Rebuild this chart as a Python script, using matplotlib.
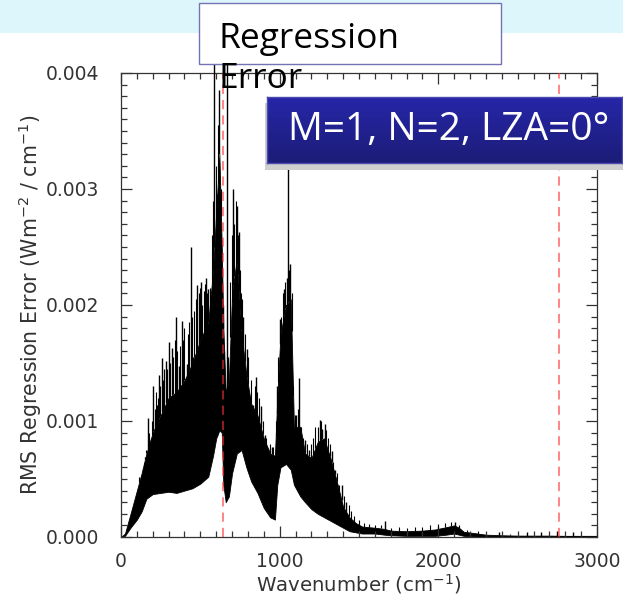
import numpy as np
import matplotlib
matplotlib.use("Agg")
import matplotlib.pyplot as plt
from matplotlib.patches import Rectangle

W, H = 623, 597

# envelope of the dense spectrum (wavenumber cm-1, values in 1e-3 W m-2 / cm-1)
wn_env = [0, 25, 60, 100, 130, 160, 200, 250, 300, 350, 400, 450, 500, 550, 580,
          600, 620, 635, 645, 660, 680, 700, 730, 760, 790, 820, 860, 900, 940,
          970, 985, 1005, 1040, 1070, 1090, 1130, 1160, 1200, 1240, 1280, 1320,
          1360, 1400, 1440, 1480, 1520, 1600, 1660, 1700, 1800, 1900, 1980, 2050,
          2100, 2130, 2160, 2220, 2300, 2400, 2500, 2600, 2700, 2800, 2900, 3000]
low_env = [0.0, 0.01, 0.08, 0.15, 0.22, 0.33, 0.37, 0.38, 0.39, 0.38, 0.40, 0.42,
           0.46, 0.52, 0.70, 0.85, 0.92, 0.90, 0.45, 0.30, 0.35, 0.55, 0.72, 0.75,
           0.60, 0.48, 0.38, 0.25, 0.17, 0.15, 0.45, 0.60, 0.63, 0.58, 0.45, 0.35,
           0.30, 0.24, 0.20, 0.17, 0.14, 0.11, 0.08, 0.05, 0.04, 0.03, 0.03, 0.02,
           0.015, 0.01, 0.01, 0.01, 0.02, 0.03, 0.02, 0.01, 0.005, 0.003, 0.003,
           0.003, 0.003, 0.003, 0.003, 0.003, 0.003]
high_env = [0.0, 0.03, 0.20, 0.40, 0.55, 0.72, 0.90, 1.05, 1.20, 1.25, 1.35, 1.50,
            1.70, 1.85, 2.30, 2.80, 3.30, 2.50, 1.80, 1.25, 1.35, 2.10, 2.40, 1.75,
            1.40, 1.15, 1.05, 0.85, 0.72, 0.70, 1.20, 1.75, 2.00, 2.05, 0.95, 0.95,
            0.72, 0.68, 0.82, 0.85, 0.68, 0.48, 0.26, 0.17, 0.12, 0.09, 0.08, 0.07,
            0.055, 0.05, 0.055, 0.065, 0.085, 0.10, 0.08, 0.045, 0.035, 0.02, 0.015,
            0.012, 0.012, 0.012, 0.01, 0.01, 0.01]

# tallest individual spikes
spk_wn = [137, 151, 168, 187, 204, 225, 241, 258, 284, 302, 323, 345, 365, 384,
          414, 439, 455, 481, 504, 534, 550, 565, 588, 603, 620, 645, 666, 707,
          729, 743, 771, 792, 813, 834, 851, 882, 907, 928, 950, 981, 1002, 1029,
          1044, 1054, 1068, 1106, 1124, 1159, 1185, 1254, 1269, 1285, 1327, 1348,
          1390, 1420, 1663, 2105, 2380, 2560, 2650, 2750, 2850]
spk_val = [0.58, 0.69, 1.03, 0.80, 1.30, 1.14, 1.40, 1.54, 1.52, 1.68, 1.63, 1.90,
           1.47, 1.86, 1.49, 2.50, 1.55, 2.17, 2.20, 2.23, 2.14, 1.97, 4.13, 2.96,
           3.85, 2.00, 4.13, 3.00, 2.85, 2.63, 1.90, 1.62, 1.17, 1.14, 1.38, 1.13,
           0.88, 0.75, 0.78, 1.30, 1.88, 2.14, 2.23, 3.50, 2.35, 1.05, 1.37, 0.84,
           0.75, 1.01, 0.93, 0.97, 0.74, 0.58, 0.45, 0.30, 0.14, 0.13, 0.04, 0.04,
           0.04, 0.05, 0.04]

# smaller spikes that make the ragged top of the dense band
fine_wn = [100, 115, 125, 145, 160, 175, 195, 212, 218, 232, 248, 265, 272, 292,
           310, 330, 338, 355, 372, 392, 400, 422, 430, 446, 462, 470, 490, 497,
           512, 520, 527, 541, 558, 572, 580, 596, 610, 630, 652, 675, 690, 698,
           715, 722, 736, 750, 758, 765, 780, 800, 820, 845, 860, 870, 893, 915,
           940, 960, 975, 990, 1010, 1020, 1036, 1060, 1075, 1085, 1095, 1115,
           1135, 1148, 1170, 1195, 1210, 1225, 1240, 1262, 1295, 1305, 1315, 1338,
           1360, 1375, 1405, 1435, 1450, 1470, 1500, 1530, 1560, 1600, 1640, 1700,
           1750, 1800, 1850, 1900, 1950, 2000, 2040, 2080, 2130, 2180, 2250, 2450]
fine_val = [0.40, 0.52, 0.48, 0.62, 0.75, 0.90, 1.00, 1.10, 1.25, 1.20, 1.30, 1.35,
            1.45, 1.45, 1.50, 1.55, 1.70, 1.60, 1.65, 1.70, 1.80, 1.75, 1.85, 1.90,
            1.95, 2.05, 2.10, 2.15, 2.00, 2.12, 2.18, 2.10, 2.15, 2.60, 2.90, 3.20,
            3.55, 3.00, 1.60, 1.55, 2.20, 2.60, 2.70, 2.90, 2.60, 2.30, 2.10, 2.05,
            1.75, 1.55, 1.35, 1.30, 1.25, 1.20, 1.00, 0.85, 0.80, 0.78, 1.00, 1.55,
            1.90, 2.10, 2.20, 2.30, 2.10, 1.30, 1.05, 1.10, 0.95, 0.85, 0.80, 0.80,
            0.85, 0.95, 0.95, 1.00, 0.92, 0.85, 0.80, 0.65, 0.55, 0.45, 0.35, 0.28,
            0.22, 0.18, 0.15, 0.12, 0.11, 0.10, 0.10, 0.08, 0.09, 0.08, 0.09, 0.09,
            0.10, 0.11, 0.12, 0.13, 0.10, 0.06, 0.05, 0.03]

ref_lines = [645, 2760]

scale = 1e-3
wn = np.array(wn_env)
lo = np.array(low_env) * scale
hi = np.array(high_env) * scale


def fx(x):
    return x / W


def fy(y):
    return 1 - y / H


fig = plt.figure(figsize=(W / 100, H / 100), dpi=100)
fig.patch.set_facecolor("white")

# light banner at the top
fig.add_artist(Rectangle((0, fy(33)), 1, 33 / H, transform=fig.transFigure,
                         facecolor="#ddf6fb", edgecolor="none", zorder=0))

ax = fig.add_axes([fx(121), fy(537), (597 - 121) / W, (537 - 73) / H])
ax.fill_between(wn, lo, hi, color="black", lw=0.6, edgecolor="black")
for sw, sv, lw in [(fine_wn, fine_val, 0.8), (spk_wn, spk_val, 1.0)]:
    sw = np.array(sw)
    base = np.interp(sw, wn, hi)
    ax.vlines(sw, base, np.array(sv) * scale, color="black", lw=lw,
              clip_on=False, zorder=3)
for r in ref_lines:
    ax.axvline(r, color="#ff3030", alpha=0.75, lw=1.1, ls=(0, (6, 4)), zorder=4)

ax.set_xlim(0, 3000)
ax.set_ylim(0, 0.004)
ax.set_xticks([0, 1000, 2000, 3000])
ax.set_xticks(np.arange(0, 3001, 100), minor=True)
ax.set_yticks([0, 0.001, 0.002, 0.003, 0.004])
ax.set_yticks(np.arange(0, 0.00401, 0.0001), minor=True)
ax.set_yticklabels(["0.000", "0.001", "0.002", "0.003", "0.004"])
ax.tick_params(which="both", direction="in", top=True, right=True,
               colors="#333333", labelsize=13.5, width=0.9)
ax.tick_params(which="major", length=8)
ax.tick_params(which="minor", length=4)
ax.tick_params(axis="x", pad=10.5)
ax.tick_params(axis="y", pad=16)
for s in ax.spines.values():
    s.set_color("#333333")
    s.set_linewidth(0.9)
ax.set_xlabel("Wavenumber (cm$^{-1}$)", fontsize=14.2, color="#333333", labelpad=1)
ax.set_ylabel("RMS Regression Error (Wm$^{-2}$ / cm$^{-1}$)", fontsize=14.8,
              color="#333333", labelpad=1)

# title box
fig.add_artist(Rectangle((fx(199), fy(64)), (501 - 199) / W, (64 - 3) / H,
                         transform=fig.transFigure, facecolor="white",
                         edgecolor="#7474b4", lw=1.0, zorder=10))
fig.text(fx(218), fy(48), "Regression", fontsize=25.5, family="Open Sans",
         va="baseline", ha="left", color="black", zorder=11)
fig.text(fx(218), fy(88), "Error", fontsize=25.5, family="Open Sans",
         va="baseline", ha="left", color="black", zorder=11)

# parameter label with shadow and gradient
fig.add_artist(Rectangle((fx(265), fy(170)), (623 - 265) / W, (170 - 103) / H,
                         transform=fig.transFigure, facecolor="#cfcfcf",
                         edgecolor="none", zorder=12))
bax = fig.add_axes([fx(267), fy(163), (622 - 267) / W, (163 - 97) / H], zorder=13)
grad = np.linspace(0, 1, 64).reshape(-1, 1)
top_c = np.array([0.15, 0.15, 0.66])
bot_c = np.array([0.11, 0.11, 0.47])
img = top_c[None, None, :] * (1 - grad[:, :, None]) + bot_c[None, None, :] * grad[:, :, None]
bax.imshow(img, aspect="auto", extent=[0, 1, 0, 1])
bax.set_xlim(0, 1)
bax.set_ylim(0, 1)
bax.set_xticks([])
bax.set_yticks([])
for s in bax.spines.values():
    s.set_color("#4a4ab0")
    s.set_linewidth(1.0)
bax.text(0.058, 0.5, "M=1, N=2, LZA=0°", fontsize=28, family="Open Sans",
         color="white", va="center", ha="left", transform=bax.transAxes)

fig.savefig("out.png", dpi=100)
